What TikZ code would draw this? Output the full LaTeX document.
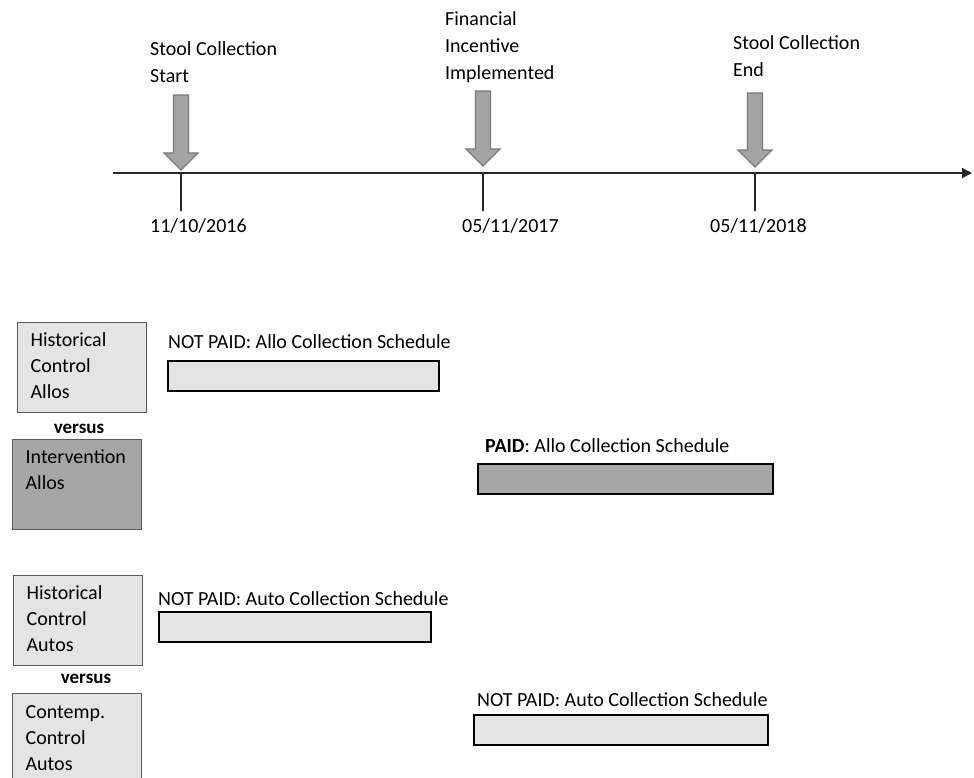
\documentclass[tikz,border=0pt]{standalone}
\usepackage{fontspec}
\setmainfont{Carlito}
\usetikzlibrary{arrows.meta,positioning}

\definecolor{paleGray}{HTML}{E4E4E4}
\definecolor{midGray}{HTML}{A6A6A6}
\definecolor{arrowGray}{HTML}{A4A4A4}
\definecolor{edgeGray}{HTML}{7A7A7A}
\definecolor{boxEdge}{HTML}{5A5A5A}

\newcommand{\lblfont}{\fontsize{20}{27}\selectfont}
\newcommand{\boxfont}{\fontsize{20}{26}\selectfont}

\tikzset{
  axisline/.style={draw=black!85, line width=1.4pt},
  milestone/.style={fill=arrowGray, draw=edgeGray, line width=1.3pt},
  eventlbl/.style={anchor=north west, inner sep=0pt, align=left, font=\lblfont},
  datelbl/.style={anchor=base west, inner sep=0pt, font=\lblfont},
  groupbox/.style={draw=boxEdge, line width=1.3pt, anchor=north west,
    minimum height=89.5pt, inner xsep=13pt, inner ysep=0pt,
    text width=103pt, align=left, font=\boxfont},
  versuslbl/.style={anchor=base, inner sep=0pt, font=\fontsize{19}{24}\selectfont\bfseries},
  schedbar/.style={draw=black, line width=1.8pt, anchor=north west,
    minimum height=30pt, inner sep=0pt},
  schedlbl/.style={anchor=base west, inner sep=0pt, font=\boxfont}
}

\begin{document}
\begin{tikzpicture}[x=1pt, y=-1pt, >={Triangle[length=10pt,width=10pt]}]
\useasboundingbox (0,0) rectangle (974,778);

% Time axis
\coordinate (axisstart) at (113,173);
\coordinate (axisend) at (972,173);
\draw[axisline, ->] (axisstart) -- (axisend);

% Ticks
\foreach \t/\tx in {t1/181, t2/483, t3/755} {
  \coordinate (\t) at (\tx,173);
  \coordinate (\t end) at (\tx,211);
  \draw[axisline] (\t) -- (\t end);
}

% Milestone arrows
\foreach \mx/\mtop/\mtip in {181/95/170, 483/91/166, 755/93/167}
  \filldraw[milestone] (\mx-7.5,\mtop) -- (\mx+7.5,\mtop) -- (\mx+7.5,\mtip-17)
    -- (\mx+17,\mtip-17) -- (\mx,\mtip) -- (\mx-17,\mtip-17)
    -- (\mx-7.5,\mtip-17) -- cycle;

% Milestone labels
\node[eventlbl] (startlbl) at (150,36) {\strut Stool Collection\\\strut Start};
\node[eventlbl] (incentlbl) at (445,6) {\strut Financial\\\strut Incentive\\\strut Implemented};
\node[eventlbl] (endlbl) at (733,30) {\strut Stool Collection\\\strut End};

% Dates
\node[datelbl] (startdate) at (150,233) {11/10/2016};
\node[datelbl] (incentdate) at (462,233) {05/11/2017};
\node[datelbl] (enddate) at (710,233) {05/11/2018};

% Allo groups
\node[groupbox, fill=paleGray] (histallo) at (17,322)
  {\strut Historical\\\strut Control\\\strut Allos};
\node[versuslbl] (vsallo) at (79,433) {versus};
\node[groupbox, fill=midGray] (intallo) at (12,439)
  {\strut Intervention\\\strut Allos\\\strut};

% Auto groups
\node[groupbox, fill=paleGray] (histauto) at (13,575)
  {\strut Historical\\\strut Control\\\strut Autos};
\node[versuslbl] (vsauto) at (86,683) {versus};
\node[groupbox, fill=paleGray, minimum height=92pt] (contauto) at (12,693)
  {\strut Contemp.\\\strut Control\\\strut Autos};

% Collection schedules
\node[schedbar, fill=paleGray, minimum width=271pt] (histallobar) at (167,360) {};
\node[schedlbl] (histallolbl) at (168,348) {NOT PAID: Allo Collection Schedule};

\node[schedbar, fill=midGray, minimum width=295pt] (intallobar) at (477,463) {};
\node[schedlbl] (intallolbl) at (485,452) {\textbf{PAID}: Allo Collection Schedule};

\node[schedbar, fill=paleGray, minimum width=272pt] (histautobar) at (158,611) {};
\node[schedlbl] (histautolbl) at (158,605) {NOT PAID: Auto Collection Schedule};

\node[schedbar, fill=paleGray, minimum width=294pt] (contautobar) at (473,714) {};
\node[schedlbl] (contautolbl) at (477,706) {NOT PAID: Auto Collection Schedule};

\end{tikzpicture}
\end{document}
